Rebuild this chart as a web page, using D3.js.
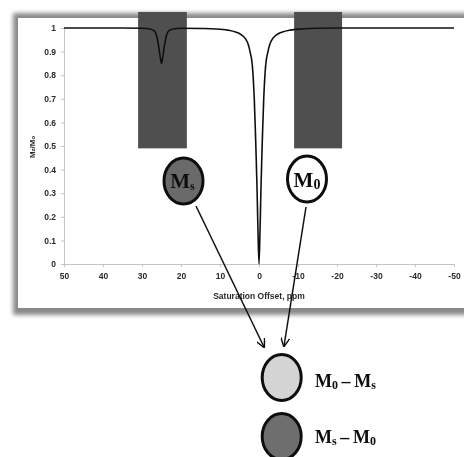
<!DOCTYPE html>
<html><head><meta charset="utf-8">
<script src="https://cdn.jsdelivr.net/npm/d3@7"></script>
<style>html,body{margin:0;padding:0;background:#fff;}svg{display:block;}</style>
</head><body>
<svg id="c" width="464" height="457"></svg>
<script>
// ---- data ----
const xTicks = [50, 40, 30, 20, 10, 0, -10, -20, -30, -40, -50];
const yTicks = [0, 0.1, 0.2, 0.3, 0.4, 0.5, 0.6, 0.7, 0.8, 0.9, 1];
const offsets = [50, 35, 30, 28, 27, 26.3, 25.8, 25.4, 25, 24.6, 24.2, 23.7, 23, 22, 20, 15, 11, 8, 6, 4.5, 3.5, 2.8, 2.3, 1.7, 1.2, 0.85, 0.55, 0.3, 0,
  -0.3, -0.55, -0.85, -1.2, -1.7, -2.3, -2.8, -3.5, -4.5, -6, -8, -11, -15, -20, -50];
const zValues = [1, 1, 0.999, 0.996, 0.99, 0.97, 0.93, 0.885, 0.85, 0.885, 0.93, 0.97, 0.99, 0.996, 0.999, 0.998, 0.996, 0.991, 0.983, 0.971, 0.955, 0.932, 0.9, 0.84, 0.695, 0.525, 0.35, 0.17, 0,
  0.17, 0.35, 0.525, 0.695, 0.84, 0.9, 0.932, 0.955, 0.971, 0.983, 0.991, 0.996, 0.999, 1, 1];
const bandStart = [31, -9];
const bandEnd = [18.5, -21.3];
const bandLow = 0.49;
const bandHigh = 1.068;
const xTitle = "Saturation Offset, ppm";

// ---- layout ----
const svg = d3.select("#c");
const defs = svg.append("defs");
const f = defs.append("filter").attr("id","blur").attr("x","-5%").attr("y","-5%").attr("width","110%").attr("height","110%");
f.append("feGaussianBlur").attr("stdDeviation", 2.2);
const f2 = defs.append("filter").attr("id","soft");
f2.append("feGaussianBlur").attr("stdDeviation", 0.35);

// panel with shadow
svg.append("rect").attr("x",13).attr("y",13).attr("width",480).attr("height",302)
  .attr("fill","#8a8a8a").attr("filter","url(#blur)");
svg.append("rect").attr("x",18).attr("y",18).attr("width",470).attr("height",290).attr("fill","#fff");

const x = d3.scaleLinear().domain([50, -50]).range([64, 454]);
const y = d3.scaleLinear().domain([0, 1]).range([264, 28]);

const g = svg.append("g").attr("filter","url(#soft)");

// gray saturation bands
g.selectAll("rect.band").data(bandStart).join("rect").attr("class","band")
  .attr("x", (d,i) => x(d)).attr("width", (d,i) => x(bandEnd[i]) - x(d))
  .attr("y", y(bandHigh)).attr("height", y(bandLow) - y(bandHigh))
  .attr("fill", "#505050");

// axes
const yAxis = g.append("g").attr("transform", `translate(${x(50)},0)`)
  .call(d3.axisLeft(y).tickValues(yTicks).tickSize(3).tickPadding(5).tickFormat(d => d === 0 ? "0" : d === 1 ? "1" : d.toFixed(1)));
const xAxis = g.append("g").attr("transform", `translate(0,${y(0)})`)
  .call(d3.axisBottom(x).tickValues(xTicks).tickSize(3).tickPadding(6).tickFormat(d => String(d)));
[yAxis, xAxis].forEach(a => {
  a.select(".domain").attr("stroke", "#c4c4c4").attr("stroke-width", 1);
  a.selectAll(".tick line").attr("stroke", "#c4c4c4");
  a.selectAll(".tick text").attr("fill", "#2a2a2a")
    .style("font-family", "'Liberation Sans', Arial, sans-serif").style("font-weight", "bold").style("font-size", "8.5px");
});

// curve
const pts = offsets.map((o, i) => [o, zValues[i]]);
g.append("path").datum(pts)
  .attr("d", d3.line().x(d => x(d[0])).y(d => y(d[1])).curve(d3.curveMonotoneX))
  .attr("fill", "none").attr("stroke", "#111").attr("stroke-width", 1.6);

// axis titles
g.append("text").attr("x", x(0)).attr("y", 299).attr("text-anchor", "middle")
  .style("font-family", "'Liberation Sans', Arial, sans-serif").style("font-weight", "bold").style("font-size", "8.5px")
  .attr("fill", "#2a2a2a").text(xTitle);
const yt = g.append("text").attr("transform", `translate(35,147) rotate(-90)`).attr("text-anchor", "middle")
  .style("font-family", "'Liberation Sans', Arial, sans-serif").style("font-weight", "bold").style("font-size", "8px")
  .attr("fill", "#2a2a2a");
yt.append("tspan").text("M");
yt.append("tspan").attr("font-size", "6px").text("z");
yt.append("tspan").text("/M");
yt.append("tspan").attr("font-size", "6px").text("o");

// annotation circles
const serif = "'Liberation Serif', 'Times New Roman', serif";
function bubble(cx, cy, fill) {
  g.append("ellipse").attr("cx", cx).attr("cy", cy).attr("rx", 19.5).attr("ry", 23)
    .attr("fill", fill).attr("stroke", "#111").attr("stroke-width", 3);
}
function mLabel(tx, ty, sub, size, subSize) {
  const t = g.append("text").attr("x", tx).attr("y", ty).attr("text-anchor", "middle")
    .style("font-family", serif).style("font-weight", "bold").style("font-size", size + "px").attr("fill", "#111");
  t.append("tspan").text("M");
  t.append("tspan").attr("font-size", subSize + "px").attr("dy", 2).text(sub);
  return t;
}
bubble(183.5, 181, "#6a6a6a");
mLabel(182.5, 188, "s", 21, 12);
bubble(307, 179, "#fff");
mLabel(307, 187, "0", 21, 14);

// arrows
const mk = defs.append("marker").attr("id", "arr").attr("viewBox", "0 0 10 10").attr("refX", 9).attr("refY", 5)
  .attr("markerWidth", 9).attr("markerHeight", 9).attr("markerUnits", "userSpaceOnUse").attr("orient", "auto");
mk.append("path").attr("d", "M0,0 L10,5 L0,10").attr("fill", "none").attr("stroke", "#111").attr("stroke-width", 1.6);
g.append("line").attr("x1", 196).attr("y1", 206).attr("x2", 264).attr("y2", 347)
  .attr("stroke", "#111").attr("stroke-width", 1.5).attr("marker-end", "url(#arr)");
g.append("line").attr("x1", 306).attr("y1", 207).attr("x2", 284).attr("y2", 346)
  .attr("stroke", "#111").attr("stroke-width", 1.5).attr("marker-end", "url(#arr)");

// result legend
bubble(281.7, 377.5, "#d4d4d4");
bubble(281.7, 436.5, "#6e6e6e");
function diffLabel(ty, a, b) {
  const t = g.append("text").attr("x", 315).attr("y", ty)
    .style("font-family", serif).style("font-weight", "bold").style("font-size", "18px").attr("fill", "#111");
  t.append("tspan").text("M");
  t.append("tspan").attr("font-size", "12px").attr("dy", 2).text(a);
  t.append("tspan").attr("dy", -2).text("\u2009\u2013\u2009M");
  t.append("tspan").attr("font-size", "12px").attr("dy", 2).text(b);
}
diffLabel(387, "0", "s");
diffLabel(443, "s", "0");
</script>
</body></html>
